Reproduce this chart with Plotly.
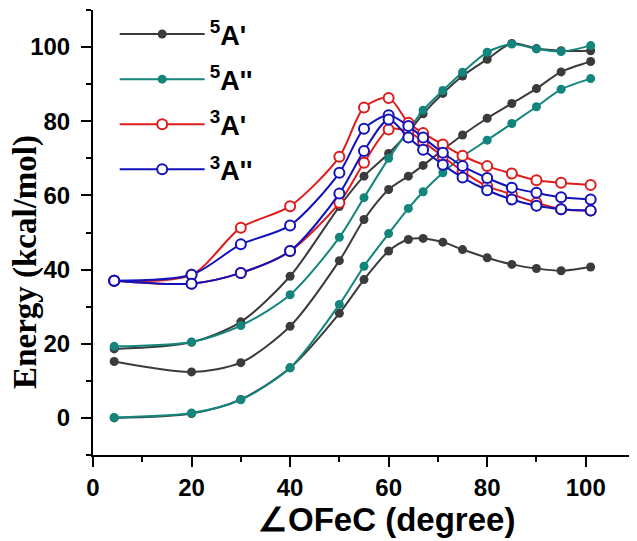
import plotly.graph_objects as go

# Angle values (degree)
angle = [4.3, 20, 30, 40, 50, 55, 60, 64, 67, 71, 75, 80, 85, 90, 95, 101]

# 5A' (three curves)
a5p_upper = [18.6, 20.4, 25.9, 38.2, 57.0, 65.2, 71.3, 77.0, 82.0, 87.5, 92.2, 96.7, 101.0, 99.6, 99.0, 99.0]
a5p_mid = [15.2, 12.4, 14.9, 24.7, 42.4, 53.5, 61.6, 65.2, 68.1, 72.3, 76.3, 80.8, 84.8, 88.8, 93.3, 96.1]
a5p_lower = [0.0, 1.2, 5.0, 13.5, 28.2, 37.3, 45.0, 48.1, 48.4, 47.4, 45.4, 43.2, 41.4, 40.3, 39.7, 40.7]

# 5A'' (two curves)
a5pp_upper = [19.3, 20.5, 24.9, 33.2, 48.7, 59.4, 70.0, 77.5, 83.0, 88.3, 93.2, 98.6, 100.8, 99.5, 98.8, 100.4]
a5pp_lower = [0.1, 1.3, 4.9, 13.5, 30.6, 40.9, 49.7, 56.5, 61.0, 66.1, 70.5, 74.9, 79.4, 83.9, 88.6, 91.5]

# 3A' (two curves)
a3p_upper = [37.0, 38.6, 51.3, 57.1, 70.4, 83.7, 86.3, 79.6, 76.8, 73.7, 70.7, 67.9, 65.9, 64.1, 63.4, 62.8]
a3p_lower = [37.0, 36.2, 39.1, 45.0, 58.0, 68.8, 77.8, 77.2, 74.5, 70.5, 66.5, 62.5, 60.3, 58.0, 56.3, 55.9]

# 3A'' (two curves)
a3pp_upper = [37.0, 38.6, 46.8, 51.9, 66.1, 78.0, 81.6, 78.7, 75.6, 71.5, 67.9, 64.7, 62.1, 60.7, 59.5, 58.9]
a3pp_lower = [37.0, 36.2, 39.1, 45.0, 60.5, 72.0, 80.5, 75.6, 72.3, 68.3, 64.8, 61.4, 58.9, 57.2, 56.3, 55.9]

x_title = "∠OFeC (degree)"
y_title = "Energy (kcal/mol)"

series = [
    ("<b><sup>5</sup>A'</b>", "#3b3b3b", True, [a5p_upper, a5p_mid, a5p_lower]),
    ("<b><sup>5</sup>A''</b>", "#13857d", True, [a5pp_upper, a5pp_lower]),
    ("<b><sup>3</sup>A'</b>", "#dd1c1c", False, [a3p_upper, a3p_lower]),
    ("<b><sup>3</sup>A''</b>", "#1212bd", False, [a3pp_upper, a3pp_lower]),
]

fig = go.Figure()
for gi, (name, color, filled, curves) in enumerate(series):
    for ci, ys in enumerate(curves):
        fig.add_trace(go.Scatter(
            x=angle, y=ys, mode="lines+markers", name=name,
            legendgroup=f"g{gi}", showlegend=(ci == 0),
            line=dict(color=color, width=2, shape="spline", smoothing=0.8),
            marker=dict(
                symbol="circle", size=9 if filled else 10,
                color=color if filled else "white",
                line=dict(color=color, width=0 if filled else 2),
            ),
        ))

# page body has an 8px margin, so the figure is shifted by (8, 8)
fig.update_layout(
    width=637, height=541,
    margin=dict(l=85, r=10, t=2, b=94),
    paper_bgcolor="white", plot_bgcolor="white",
    showlegend=True,
    legend=dict(
        x=0.04, y=1.0, xanchor="left", yanchor="top",
        bgcolor="rgba(0,0,0,0)", borderwidth=0,
        font=dict(family="Liberation Sans, Arial", size=27, color="black"),
        itemwidth=85, tracegroupgap=7, traceorder="grouped",
    ),
    font=dict(family="Liberation Sans, Arial", color="black"),
    annotations=[
        dict(text=x_title, xref="paper", yref="paper", x=0.5424, y=-0.146,
             xanchor="center", yanchor="middle", showarrow=False,
             font=dict(family="Liberation Sans, Arial", size=33, color="black", weight="bold")),
        dict(text=y_title, xref="paper", yref="paper", x=-0.1236, y=0.434,
             xanchor="center", yanchor="middle", showarrow=False, textangle=-90,
             font=dict(family="Liberation Serif, Times New Roman", size=33, color="black", weight="bold")),
    ],
)
fig.update_xaxes(
    range=[0, 110], tick0=0, dtick=20, automargin=False,
    showline=True, linecolor="black", linewidth=2, mirror=False,
    ticks="outside", ticklen=10, tickwidth=2, tickcolor="black",
    minor=dict(dtick=10, tick0=0, ticks="outside", ticklen=5, tickwidth=2, tickcolor="black"),
    showgrid=False, zeroline=False,
    tickfont=dict(family="Liberation Sans, Arial", size=24, color="black", weight="bold"),
)
fig.update_yaxes(
    range=[-10, 110], tick0=0, dtick=20, automargin=False,
    showline=True, linecolor="black", linewidth=2, mirror=False,
    ticks="outside", ticklen=10, tickwidth=2, tickcolor="black",
    minor=dict(dtick=10, tick0=0, ticks="outside", ticklen=5, tickwidth=2, tickcolor="black"),
    showgrid=False, zeroline=False,
    ticklabelstandoff=6,
    tickfont=dict(family="Liberation Sans, Arial", size=24, color="black", weight="bold"),
)

fig.write_html("out.html")
